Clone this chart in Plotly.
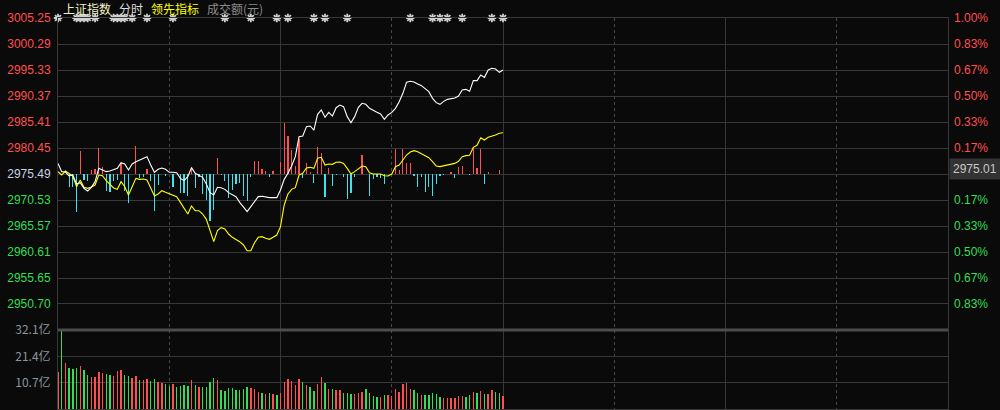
import plotly.graph_objects as go

# ---------------- data ----------------
prev_close = 2975.49
price_ticks = [3005.25, 3000.29, 2995.33, 2990.37, 2985.41, 2980.45, 2975.49,
               2970.53, 2965.57, 2960.61, 2955.65, 2950.70]
pct_labels = ["1.00%", "0.83%", "0.67%", "0.50%", "0.33%", "0.17%", "0.00%",
              "0.17%", "0.33%", "0.50%", "0.67%", "0.83%"]
price_min, price_max = 2945.73, 3005.25
vol_ticks = [10.7, 21.4, 32.1]
vol_labels = ["10.7亿", "21.4亿", "32.1亿"]

minutes = list(range(121))

index_price = [
    2977.52, 2975.94, 2975.87, 2975.11, 2975.30, 2973.58, 2973.84, 2972.76, 2972.25, 2972.95,
    2974.03, 2976.57, 2976.25, 2975.94, 2976.06, 2976.25, 2976.57, 2977.65, 2977.40, 2976.25,
    2977.40, 2977.84, 2978.16, 2978.42, 2978.80, 2977.21, 2975.81, 2976.38, 2976.63, 2976.38,
    2975.81, 2975.81, 2975.74, 2974.66, 2974.22, 2974.98, 2976.70, 2975.62, 2975.30, 2974.85,
    2973.58, 2971.93, 2971.48, 2972.95, 2972.88, 2972.56, 2971.93, 2971.48, 2971.17, 2970.08,
    2969.13, 2968.30, 2969.26, 2970.34, 2971.17, 2971.23, 2971.04, 2970.98, 2970.98, 2970.98,
    2972.44, 2974.47, 2975.62, 2977.02, 2978.80, 2982.61, 2982.74, 2984.52, 2984.65, 2983.88,
    2986.87, 2987.70, 2986.30, 2987.25, 2986.55, 2988.14, 2988.65, 2988.34, 2986.43, 2985.28,
    2986.43, 2988.21, 2988.97, 2988.78, 2988.02, 2987.57, 2987.25, 2986.94, 2985.92, 2986.75,
    2987.25, 2988.02, 2989.29, 2990.88, 2992.98, 2993.17, 2993.04, 2992.66, 2992.34, 2991.77,
    2991.20, 2989.93, 2989.10, 2988.78, 2989.35, 2989.73, 2989.93, 2989.99, 2990.37, 2991.51,
    2991.64, 2991.26, 2993.30, 2993.30, 2994.38, 2993.93, 2995.33, 2995.65, 2995.52, 2994.89,
    2995.33]

leading_index = [
    2975.94, 2975.30, 2976.06, 2975.62, 2975.11, 2973.07, 2974.35, 2972.95, 2972.76, 2973.01,
    2973.39, 2975.30, 2975.17, 2974.22, 2973.46, 2972.82, 2972.56, 2974.03, 2973.07, 2971.48,
    2973.07, 2974.66, 2974.47, 2974.54, 2974.35, 2972.76, 2971.29, 2971.67, 2972.31, 2971.99,
    2971.67, 2971.48, 2971.17, 2970.08, 2968.94, 2967.86, 2969.39, 2968.49, 2968.49, 2967.86,
    2966.84, 2964.49, 2962.58, 2964.68, 2965.25, 2965.00, 2964.04, 2963.41, 2963.03, 2962.58,
    2961.95, 2960.86, 2960.86, 2962.39, 2963.41, 2963.54, 2963.22, 2963.03, 2963.41, 2963.85,
    2965.44, 2969.58, 2971.67, 2972.56, 2972.88, 2975.30, 2975.62, 2976.63, 2976.76, 2976.57,
    2978.48, 2978.67, 2977.21, 2977.40, 2977.33, 2977.72, 2977.78, 2977.52, 2976.57, 2975.49,
    2975.94, 2976.57, 2977.02, 2976.89, 2975.74, 2975.49, 2975.49, 2975.49, 2975.17, 2975.11,
    2975.49, 2976.89, 2977.21, 2978.29, 2979.11, 2979.69, 2979.94, 2979.75, 2979.37, 2978.99,
    2978.61, 2977.84, 2977.02, 2976.89, 2977.08, 2977.14, 2977.40, 2977.52, 2977.91, 2978.80,
    2978.99, 2979.05, 2980.58, 2980.96, 2982.42, 2981.98, 2982.49, 2982.68, 2982.93, 2983.25,
    2983.37]

# buy/sell strength bars (index points above / below previous close)
strength = [
    0, 0, 0, -2.42, -2.42, -7.19, 4.45, -1.14, -1.27, 0.76,
    0.95, 4.90, 1.27, -3.18, -3.37, -1.27, -1.14, 2.03, -3.18, -5.47,
    0, 5.34, -0.83, -0.51, 0.95, -1.27, -7.00, -2.10, 0, -0.38,
    0, -2.42, 0, -3.56, -3.69, -4.20, 1.27, -2.73, -0.64, -3.82,
    -4.96, -8.90, -6.87, 3.12, -0.19, -1.27, -4.64, -3.05, -1.91, -1.65,
    -4.20, -5.09, -0.64, 2.48, 2.48, 0.95, 0.51, -0.51, 0.57, 0,
    2.29, 9.79, 7.25, 4.58, 1.53, 6.68, -0.70, 2.16, 0.45, -1.65,
    5.09, 4.07, -4.45, 1.21, -2.23, -0.19, 0, -0.64, -4.83, -3.69,
    -0.51, 0, 3.62, 0, -4.13, -1.02, -0.64, -0.70, -1.97, 0,
    0, 4.71, 0.76, 4.77, 2.16, 2.03, -0.38, -2.42, -0.64, -3.37,
    -2.42, -4.13, -1.91, -0.32, -0.19, 0, 0.45, -0.83, 1.40, 1.59,
    0, -0.25, 5.09, 1.08, 4.71, -1.91, 0.45, 0, -0.06, 0.76,
    0]

# turnover per minute, 亿元
turnover = [
    15.16, 31.68, 18.82, 16.65, 16.25, 16.65, 17.47, 15.84, 13.81, 13.13,
    13.13, 15.16, 14.76, 14.22, 13.81, 13.40, 15.57, 15.84, 13.81, 13.40,
    12.73, 13.40, 11.78, 11.78, 12.19, 11.37, 12.19, 10.97, 10.43, 10.16,
    9.34, 10.16, 8.94, 9.34, 9.75, 9.34, 11.78, 9.75, 8.94, 8.94,
    8.94, 10.97, 12.59, 11.78, 7.72, 7.31, 8.53, 8.53, 7.72, 7.72,
    8.12, 8.94, 8.53, 8.12, 6.91, 6.50, 6.09, 6.50, 6.09, 5.69,
    6.50, 10.97, 12.19, 11.37, 9.75, 12.19, 10.97, 9.75, 8.94, 7.31,
    10.16, 13.00, 10.56, 8.12, 8.12, 7.72, 7.72, 6.50, 6.50, 6.09,
    6.09, 6.50, 6.91, 8.12, 6.50, 5.28, 4.87, 4.87, 5.69, 5.69,
    5.28, 8.12, 6.91, 10.16, 10.56, 8.12, 7.72, 6.50, 5.69, 5.69,
    5.69, 6.50, 6.09, 4.87, 4.47, 4.47, 4.47, 4.47, 5.28, 5.28,
    4.87, 5.69, 6.91, 6.50, 7.31, 6.09, 6.09, 7.72, 6.91, 6.50,
    5.28]

# 1 = up minute (red), -1 = down minute (green)
turnover_dir = [
    1, -1, 1, -1, -1, -1, 1, -1, -1, 1,
    1, 1, 1, -1, -1, 1, 1, 1, -1, -1,
    1, 1, -1, 1, 1, -1, -1, 1, 1, -1,
    -1, 1, -1, -1, -1, -1, 1, -1, 1, -1,
    -1, -1, -1, 1, -1, -1, -1, -1, -1, -1,
    -1, -1, 1, 1, 1, -1, 1, -1, 1, -1,
    1, 1, 1, 1, 1, 1, -1, 1, -1, -1,
    1, 1, -1, 1, -1, 1, 1, -1, -1, -1,
    1, 1, 1, -1, -1, -1, -1, 1, -1, 1,
    1, 1, 1, 1, 1, 1, -1, -1, 1, -1,
    -1, -1, -1, -1, 1, 1, 1, 1, 1, 1,
    -1, -1, 1, -1, 1, -1, 1, 1, -1, -1,
    1]

event_minutes = [0, 5, 6, 7, 8, 10, 15, 16, 17, 18, 20, 24, 31, 45, 52, 59, 62,
                 69, 72, 78, 95, 101, 103, 105, 109, 117, 120]

cursor_label = "2975.01"

# ---------------- styling ----------------
BG = "#0a0a0a"
GRID = "#383838"
RED = "#ff4f4f"
GREEN = "#33dd55"
CYAN = "#3fe3ef"
NEUTRAL = "#c8d2e2"
FONT = "Arial, 'Liberation Sans', 'Noto Sans CJK SC', sans-serif"
CJK = "'Noto Sans CJK SC', 'Liberation Sans', sans-serif"

W, H = 1000, 410
ML, MR, MT, MB = 58, 52, 18, 1
ph = H - MT - MB
vol_top_px = 330
vol_dom = (H - MB - vol_top_px) / ph


def col(v, ref):
    return RED if v > ref else (GREEN if v < ref else NEUTRAL)


left_text = [f"<span style='color:{col(v, prev_close)}'>{v:.2f}</span>" for v in price_ticks]
right_text = [f"<span style='color:{col(v, prev_close)}'>{t}</span>"
              for v, t in zip(price_ticks, pct_labels)]

fig = go.Figure()

# volume bars
fig.add_trace(go.Bar(
    x=minutes, y=turnover, xaxis="x", yaxis="y2", width=0.38,
    marker=dict(color=[RED if d > 0 else GREEN for d in turnover_dir], line=dict(width=0)),
    hoverinfo="skip", showlegend=False))

# strength bars in price panel
fig.add_trace(go.Bar(
    x=minutes, y=strength, base=prev_close, xaxis="x2", yaxis="y", width=0.32,
    marker=dict(color=[RED if s > 0 else CYAN for s in strength], line=dict(width=0)),
    hoverinfo="skip", showlegend=False))

# leading indicator (yellow)
fig.add_trace(go.Scatter(
    x=minutes, y=leading_index, xaxis="x2", yaxis="y", mode="lines",
    line=dict(color="#ffff00", width=1.1), hoverinfo="skip", showlegend=False))

# index price (white)
fig.add_trace(go.Scatter(
    x=minutes, y=index_price, xaxis="x2", yaxis="y", mode="lines",
    line=dict(color="#ffffff", width=1.1), hoverinfo="skip", showlegend=False))

# dummy trace for right axis
fig.add_trace(go.Scatter(
    x=[None], y=[None], xaxis="x2", yaxis="y3", mode="lines",
    hoverinfo="skip", showlegend=False))

# event markers
fig.add_trace(go.Scatter(
    x=event_minutes, y=[price_max] * len(event_minutes), xaxis="x2", yaxis="y",
    mode="markers", cliponaxis=False,
    marker=dict(symbol="asterisk-open", size=7, color="#d0d0d0",
                line=dict(color="#d0d0d0", width=1.8)),
    hoverinfo="skip", showlegend=False))

xcommon = dict(range=[0, 240], showticklabels=False, ticks="", zeroline=False,
               showgrid=True, gridcolor=GRID, gridwidth=1, dtick=60, tick0=0,
               minor=dict(dtick=30, showgrid=True, gridcolor="#4a4a4a", griddash="dot", gridwidth=1),
               showline=True, linecolor=GRID, mirror=True, fixedrange=True)

fig.update_layout(
    width=W, height=H,
    margin=dict(l=ML, r=MR, t=MT, b=MB, pad=0),
    paper_bgcolor=BG, plot_bgcolor=BG,
    bargap=0, barmode="overlay",
    font=dict(family=FONT, size=12, color="#cccccc"),
    xaxis=dict(domain=[0, 1], anchor="y2", **xcommon),
    xaxis2=dict(domain=[0, 1], anchor="y", matches="x", **xcommon),
    yaxis=dict(domain=[vol_dom, 1], anchor="x2", range=[price_min, price_max],
               tickmode="array", tickvals=price_ticks, ticktext=left_text,
               showgrid=True, gridcolor=GRID, zeroline=False, ticks="",
               ticklabelstandoff=4, showline=True, linecolor=GRID, mirror=True,
               tickfont=dict(family=FONT, size=12), fixedrange=True),
    yaxis3=dict(overlaying="y", side="right", anchor="x2", range=[price_min, price_max],
                tickmode="array", tickvals=price_ticks, ticktext=right_text,
                showgrid=False, zeroline=False, ticks="", ticklabelstandoff=5,
                tickfont=dict(family=FONT, size=12), fixedrange=True),
    yaxis2=dict(domain=[0, vol_dom], anchor="x", range=[0, 32.1],
                tickmode="array", tickvals=vol_ticks, ticktext=vol_labels,
                showgrid=True, gridcolor=GRID, zeroline=False, ticks="",
                ticklabelstandoff=4, showline=True, linecolor=GRID, mirror=True,
                tickfont=dict(family=CJK, size=12, color="#8a949e"), fixedrange=True),
)

# separator between price and volume panels
fig.add_shape(type="line", xref="paper", yref="paper", x0=0, x1=1, y0=vol_dom, y1=vol_dom,
              line=dict(color="#4c4c4c", width=3), layer="above")

# header legend texts
header = [("上证指数", "#f2f2c8", 62), ("分时", "#dcdcdc", 118),
          ("领先指标", "#ffff00", 150), ("成交额(元)", "#8c8c8c", 206)]
for txt, c, px in header:
    fig.add_annotation(text=txt, xref="paper", yref="paper",
                       x=(px - ML) / (W - ML - MR), y=1 + (MT - 9) / ph,
                       xanchor="left", yanchor="middle", showarrow=False,
                       font=dict(family=CJK, size=12, color=c), borderpad=0)

# cursor price box on right axis
fig.add_annotation(text=cursor_label, xref="paper", yref="paper",
                   x=(949 - ML) / (W - ML - MR), y=(H - MB - 169) / ph,
                   xanchor="left", yanchor="middle", showarrow=False,
                   bgcolor="#333333", borderpad=3,
                   font=dict(family=FONT, size=12, color="#c8c8c8"))

fig.write_html("out.html", config={"displayModeBar": False, "staticPlot": True},
               post_script="document.body.style.margin='0';document.body.style.background='#0a0a0a';")
